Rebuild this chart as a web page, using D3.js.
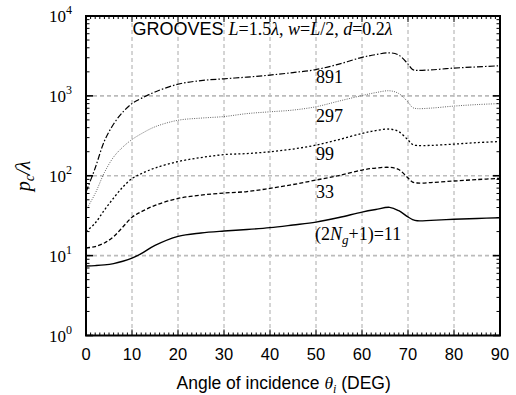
<!DOCTYPE html>
<html><head><meta charset="utf-8">
<script src="https://cdn.jsdelivr.net/npm/d3@7"></script>
<style>body{margin:0;background:#fff}</style>
</head><body><svg id="c" width="516" height="395" xmlns="http://www.w3.org/2000/svg"></svg>
<script>
// ---- data ----
const angles = [0,2,4,6,8,10,12,15,20,25,30,35,40,45,50,55,60,63,66,68,70,71,72,75,80,85,90];
const s11  = [7.41,7.5,7.65,7.95,8.5,9.3,10.6,13.4,17.4,19.2,20.3,21.2,22.4,24.2,26.3,30.0,35.1,37.8,40.2,36.5,30.5,28.3,27.3,27.6,28.5,29.2,29.8];
const s33  = [12.45,13.0,14.4,17.3,22.8,30.2,35.4,42.5,52.0,57.3,60.7,63.4,69.5,77.6,88.3,100.6,117.9,124.8,127.4,119.6,93.6,83.4,81.1,82.2,85.9,89.6,92.8];
const s99  = [20.0,25.6,37.2,52.6,72.2,92.0,106,125,150.6,169,184,189.6,199.6,216,242,284,339,368,384,357,280,246,239,240,249,260,268];
const s297 = [37.2,60,109.6,171.4,228.6,284,335,410,495,527,551,600,632,664,731,861,1009,1099,1158,1069,836,714,693,703,745,778,801];
const s891 = [62.5,125,272,444,627,800,930,1120,1400,1554,1637,1718,1821,1958,2134,2500,3033,3288,3461,3243,2500,2134,2085,2115,2228,2306,2382];
const xTicks = [0,10,20,30,40,50,60,70,80,90];
const yTickExp = [0,1,2,3,4];
const seriesNames = ["891","297","99","33","11"];

const svg = d3.select("#c");
const L = 86, R = 500, T = 16, B = 335.5;
const x = d3.scaleLinear().domain([0,90]).range([L,R]);
const y = d3.scaleLog().domain([1,1e4]).range([B,T]);
const serif = "'Liberation Serif','Times New Roman',serif";
const sans = "'Liberation Sans',Arial,Helvetica,sans-serif";

// grid
const grid = svg.append("g").attr("stroke","#aaa").attr("stroke-width",1).attr("stroke-dasharray","4,3");
xTicks.slice(1,-1).forEach(t=>grid.append("line").attr("x1",x(t)).attr("x2",x(t)).attr("y1",T).attr("y2",B));
yTickExp.slice(1,-1).forEach(e=>grid.append("line").attr("x1",L).attr("x2",R).attr("y1",y(Math.pow(10,e))).attr("y2",y(Math.pow(10,e))).attr("stroke","#bbb").attr("stroke-width",1.6));

// ticks
const tk = svg.append("g").attr("stroke","#000").attr("stroke-width",1);
for(let a=0;a<=90;a++){
  const len = a%10===0 ? 6 : 3;
  tk.append("line").attr("x1",x(a)).attr("x2",x(a)).attr("y1",B).attr("y2",B-len);
  tk.append("line").attr("x1",x(a)).attr("x2",x(a)).attr("y1",T).attr("y2",T+len);
}
y.ticks().forEach(v=>{
  const e = Math.log10(v);
  const major = Math.abs(e-Math.round(e))<1e-9;
  const len = major ? 7 : 3.5;
  tk.append("line").attr("x1",L).attr("x2",L+len).attr("y1",y(v)).attr("y2",y(v)).attr("stroke-width",major?1.6:1);
  tk.append("line").attr("x1",R).attr("x2",R-len).attr("y1",y(v)).attr("y2",y(v)).attr("stroke-width",major?1.6:1);
});

// curves
const line = d3.line().x((d,i)=>x(angles[i])).y(d=>y(d)).curve(d3.curveCatmullRom.alpha(0.5));
const styles = [
  {data:s891, dash:"6,2,1.5,2", color:"#000", w:1.2},
  {data:s297, dash:"1,1.3", color:"#666", w:1},
  {data:s99,  dash:"2,2.2", color:"#000", w:1.3},
  {data:s33,  dash:"4,2.2", color:"#000", w:1.3},
  {data:s11,  dash:null, color:"#000", w:1.4}
];
styles.forEach(s=>{
  svg.append("path").attr("d",line(s.data)).attr("fill","none")
    .attr("stroke",s.color).attr("stroke-width",s.w)
    .attr("stroke-dasharray",s.dash);
});

// frame
svg.append("rect").attr("x",L).attr("y",T).attr("width",R-L).attr("height",B-T)
  .attr("fill","none").attr("stroke","#000").attr("stroke-width",2);

// series labels
const lab = svg.append("g").attr("font-family",serif).attr("font-size",18).attr("fill","#000");
const labY = [83,121.5,160,198];
seriesNames.slice(0,4).forEach((n,i)=>lab.append("text").attr("x",x(50)).attr("y",labY[i]).text(n));
const t11 = lab.append("text").attr("x",x(50)-1).attr("y",240);
t11.append("tspan").text("(2");
t11.append("tspan").attr("font-style","italic").text("N");
t11.append("tspan").attr("font-style","italic").attr("font-size",13).attr("dy",4).text("g");
t11.append("tspan").attr("dy",-4).text("+1)="+seriesNames[4]);

// title
const tt = svg.append("text").attr("x",132.5).attr("y",35).attr("font-size",18).attr("fill","#000");
tt.append("tspan").attr("font-family",sans).text("GROOVES ");
const it = (s)=>tt.append("tspan").attr("font-family",serif).attr("font-style","italic").text(s);
const rm = (s)=>tt.append("tspan").attr("font-family",serif).text(s);
it("L"); rm("=1.5"); it("λ"); rm(", "); it("w"); rm("="); it("L"); rm("/2, "); it("d"); rm("=0.2"); it("λ");

// x tick labels
const xl = svg.append("g").attr("font-family",sans).attr("font-size",16.5).attr("text-anchor","middle");
xTicks.forEach(t=>xl.append("text").attr("x",x(t)).attr("y",360).text(t));

// y tick labels
const yl = svg.append("g").attr("font-family",serif).attr("font-size",17);
yTickExp.forEach(e=>{
  const tx = yl.append("text").attr("x",49).attr("y",y(Math.pow(10,e))+6);
  tx.append("tspan").text("10");
  tx.append("tspan").attr("font-size",12).attr("dy",-8).text(e);
});

// axis titles
const xt = svg.append("text").attr("x",176.5).attr("y",389).attr("font-family",sans).attr("font-size",17.5);
xt.append("tspan").text("Angle of incidence ");
xt.append("tspan").attr("font-family",serif).attr("font-style","italic").text("θ");
xt.append("tspan").attr("font-family",serif).attr("font-style","italic").attr("font-size",12).attr("dy",4).text("i");
xt.append("tspan").attr("dy",-4).text(" (DEG)");

const yt = svg.append("text").attr("transform","translate(30,176) rotate(-90)").attr("text-anchor","middle")
  .attr("font-family",serif).attr("font-style","italic").attr("font-size",20);
yt.append("tspan").text("p");
yt.append("tspan").attr("font-size",14).attr("dy",4).text("c");
yt.append("tspan").attr("dy",-4).text("/λ");
</script></body></html>
